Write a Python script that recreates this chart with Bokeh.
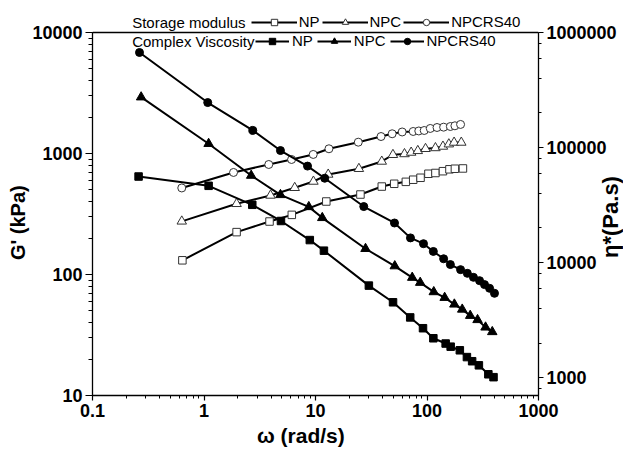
from bokeh.plotting import figure
from bokeh.layouts import column
from bokeh.models import (Range1d, LogAxis, LogScale, Legend, LegendItem, Label, Span,
                          CustomJSTickFormatter, Div)
from bokeh.embed import file_html
from bokeh.resources import INLINE

# ---- Storage modulus G' (kPa), left axis ----
w_np_g = [0.64, 1.96, 3.87, 6.13, 12.5, 25.3, 39.3, 50.8, 64.6, 75.2, 87.5, 103, 119, 139, 159, 178, 210]
g_np = [131, 224, 274, 311, 401, 458, 533, 562, 583, 607, 630, 680, 690, 714, 740, 748, 752]

w_npc_g = [0.632, 1.96, 3.95, 6.51, 9.58, 13.0, 24.5, 39.3, 49.5, 62.8, 72.1, 82.7, 97.0, 119, 139, 157, 175, 203]
g_npc = [275, 384, 450, 521, 587, 671, 748, 859, 976, 991, 1019, 1052, 1094, 1111, 1143, 1194, 1233, 1233]

w_npcrs_g = [0.632, 1.84, 3.81, 6.10, 9.54, 13.2, 24.2, 38.7, 48.7, 59.9, 75.2, 84.4, 94.4, 107, 123, 141, 162, 178, 200]
g_npcrs = [519, 697, 811, 892, 982, 1094, 1240, 1381, 1455, 1506, 1520, 1535, 1549, 1610, 1640, 1650, 1671, 1694, 1738]

# ---- Complex viscosity eta* (Pa.s), right axis ----
w_np_eta = [0.259, 1.10, 2.71, 4.90, 8.89, 11.9, 30.1, 49.6, 70.7, 92.1, 114, 147, 163, 197, 228, 254, 292, 355, 395]
eta_np = [56000, 46500, 31800, 23000, 15700, 12700, 6310, 4520, 3340, 2690, 2200, 1980, 1860, 1730, 1510, 1390, 1280, 1070, 1010]

w_npc_eta = [0.273, 1.10, 2.65, 4.85, 8.71, 11.5, 28.1, 51.4, 73.7, 86.9, 115, 144, 176, 207, 244, 284, 335, 385]
eta_npc = [274000, 108000, 57100, 38800, 30500, 24500, 13200, 9330, 7410, 6700, 5560, 4960, 4340, 3920, 3460, 3180, 2740, 2500]

w_npcrs_eta = [0.264, 1.08, 2.74, 4.85, 8.48, 12.1, 27.1, 51.1, 71.1, 93.0, 114, 141, 162, 200, 230, 261, 296, 328, 364, 403]
eta_npcrs = [670000, 246000, 141000, 94200, 69000, 54100, 30700, 22100, 16400, 14600, 12500, 10800, 9620, 8690, 8070, 7450, 6970, 6440, 5980, 5410]

series_names = ["NP", "NPC", "NPCRS40"]
group_titles = ["Storage modulus", "Complex Viscosity"]
markers = ["square", "triangle", "circle"]
marker_sizes = [7.5, 9.5, 8]

G_AXIS = (10, 10000)        # drawn extent of the G' axis
ETA_AXIS = (700, 1e6)       # drawn extent of the eta* axis
X_AXIS = (0.1, 1000)

FONT = "Liberation Sans"
NB = "\u00a0"

# the frame is extended upward (above G'=10000) so that the top legend row
# is drawn inside it; the axis lines are bounded to the real axis extents
p = figure(width=623, height=451, x_axis_type="log", y_axis_type="log",
           x_range=Range1d(*X_AXIS), y_range=Range1d(10, 16710),
           output_backend="svg", toolbar_location=None,
           min_border_left=92, min_border_right=85, min_border_top=5, min_border_bottom=56)
p.extra_y_ranges = {"eta": Range1d(700, 1.716e6)}
p.extra_y_scales = {"eta": LogScale()}
p.xgrid.visible = False
p.ygrid.visible = False
p.outline_line_color = None
p.background_fill_color = "white"
p.border_fill_color = "white"

fmt = CustomJSTickFormatter(code="return String(parseFloat(tick.toPrecision(6)));")

ax_r = LogAxis(y_range_name="eta", bounds=ETA_AXIS)
p.add_layout(ax_r, "right")
p.yaxis[0].bounds = G_AXIS
p.xaxis[0].bounds = X_AXIS

for ax in [p.xaxis[0], p.yaxis[0], ax_r]:
    ax.formatter = fmt
    ax.axis_line_color = "black"
    ax.axis_line_width = 1.3
    ax.major_tick_line_width = 1.2
    ax.minor_tick_line_width = 1
    ax.major_tick_in = 0
    ax.minor_tick_in = 0
    ax.major_label_text_font = FONT
    ax.major_label_text_font_style = "bold"
    ax.major_label_text_font_size = "18px"
    ax.major_label_text_color = "black"
    ax.axis_label_text_font = FONT
    ax.axis_label_text_font_style = "bold"
    ax.axis_label_text_color = "black"

p.yaxis[0].axis_label = "G' (kPa)" + NB * 8
p.yaxis[0].axis_label_text_font_size = "20px"
p.yaxis[0].major_tick_out = 7
p.yaxis[0].minor_tick_out = 4
p.yaxis[0].major_label_standoff = 3
p.yaxis[0].axis_label_standoff = 0

p.xaxis[0].axis_label = "ω (rad/s)" + NB * 5
p.xaxis[0].axis_label_text_font_size = "21px"
p.xaxis[0].major_tick_out = 5
p.xaxis[0].minor_tick_out = 3
p.xaxis[0].major_label_standoff = 3
p.xaxis[0].axis_label_standoff = 4

ax_r.major_tick_out = 5
ax_r.minor_tick_out = 3
ax_r.major_label_standoff = 3

# top border of the plotting box at G' = 10000
p.add_layout(Span(location=G_AXIS[1], dimension="width", line_color="black", line_width=1.3))

g_items = []
g_data = [(w_np_g, g_np), (w_npc_g, g_npc), (w_npcrs_g, g_npcrs)]
for (wx, gy), name, mk, ms in zip(g_data, series_names, markers, marker_sizes):
    lr = p.line(wx, gy, line_color="black", line_width=2)
    sr = p.scatter(wx, gy, marker=mk, size=ms, fill_color="white",
                   line_color="#333333", line_width=1)
    g_items.append(LegendItem(label=name, renderers=[lr, sr]))

e_items = []
e_data = [(w_np_eta, eta_np), (w_npc_eta, eta_npc), (w_npcrs_eta, eta_npcrs)]
for (wx, ey), name, mk, ms in zip(e_data, series_names, markers, marker_sizes):
    lr = p.line(wx, ey, line_color="black", line_width=2, y_range_name="eta")
    sr = p.scatter(wx, ey, marker=mk, size=ms, fill_color="black",
                   line_color="black", line_width=1, y_range_name="eta")
    e_items.append(LegendItem(label=name, renderers=[lr, sr]))


def make_legend(items, loc, gw, standoff, spacing):
    return Legend(items=items, location=loc, orientation="horizontal",
                  glyph_width=gw, glyph_height=16, label_height=16,
                  label_standoff=standoff, spacing=spacing, padding=0, margin=0,
                  background_fill_alpha=0, border_line_alpha=0,
                  label_text_font=FONT, label_text_font_size="15px",
                  label_text_color="black")


p.add_layout(make_legend(g_items, (158.7, 364.8), 46, 2, 2))
p.add_layout(make_legend(e_items, (163, 345.8), 34, 3, 4))
for title, ty in zip(group_titles, [373.3, 354.3]):
    p.add_layout(Label(x=39.7, y=ty, x_units="screen", y_units="screen",
                       text=title, text_font=FONT, text_font_size="15px",
                       text_baseline="middle", text_color="black"))

# right-hand axis title, reading bottom-to-top, overlaid beside the eta* tick labels
right_title = Div(text="η*(Pa.s)", width=110, height=24,
                  styles={"position": "absolute", "left": "551px", "top": "200px",
                          "z-index": "10", "transform": "rotate(-90deg)",
                          "font-family": "'Liberation Sans', Arial, sans-serif",
                          "font-weight": "bold", "font-size": "22px",
                          "line-height": "24px", "text-align": "center",
                          "white-space": "nowrap", "color": "black"})

layout = column(p, right_title)
open("out.html", "w").write(file_html(layout, INLINE))
